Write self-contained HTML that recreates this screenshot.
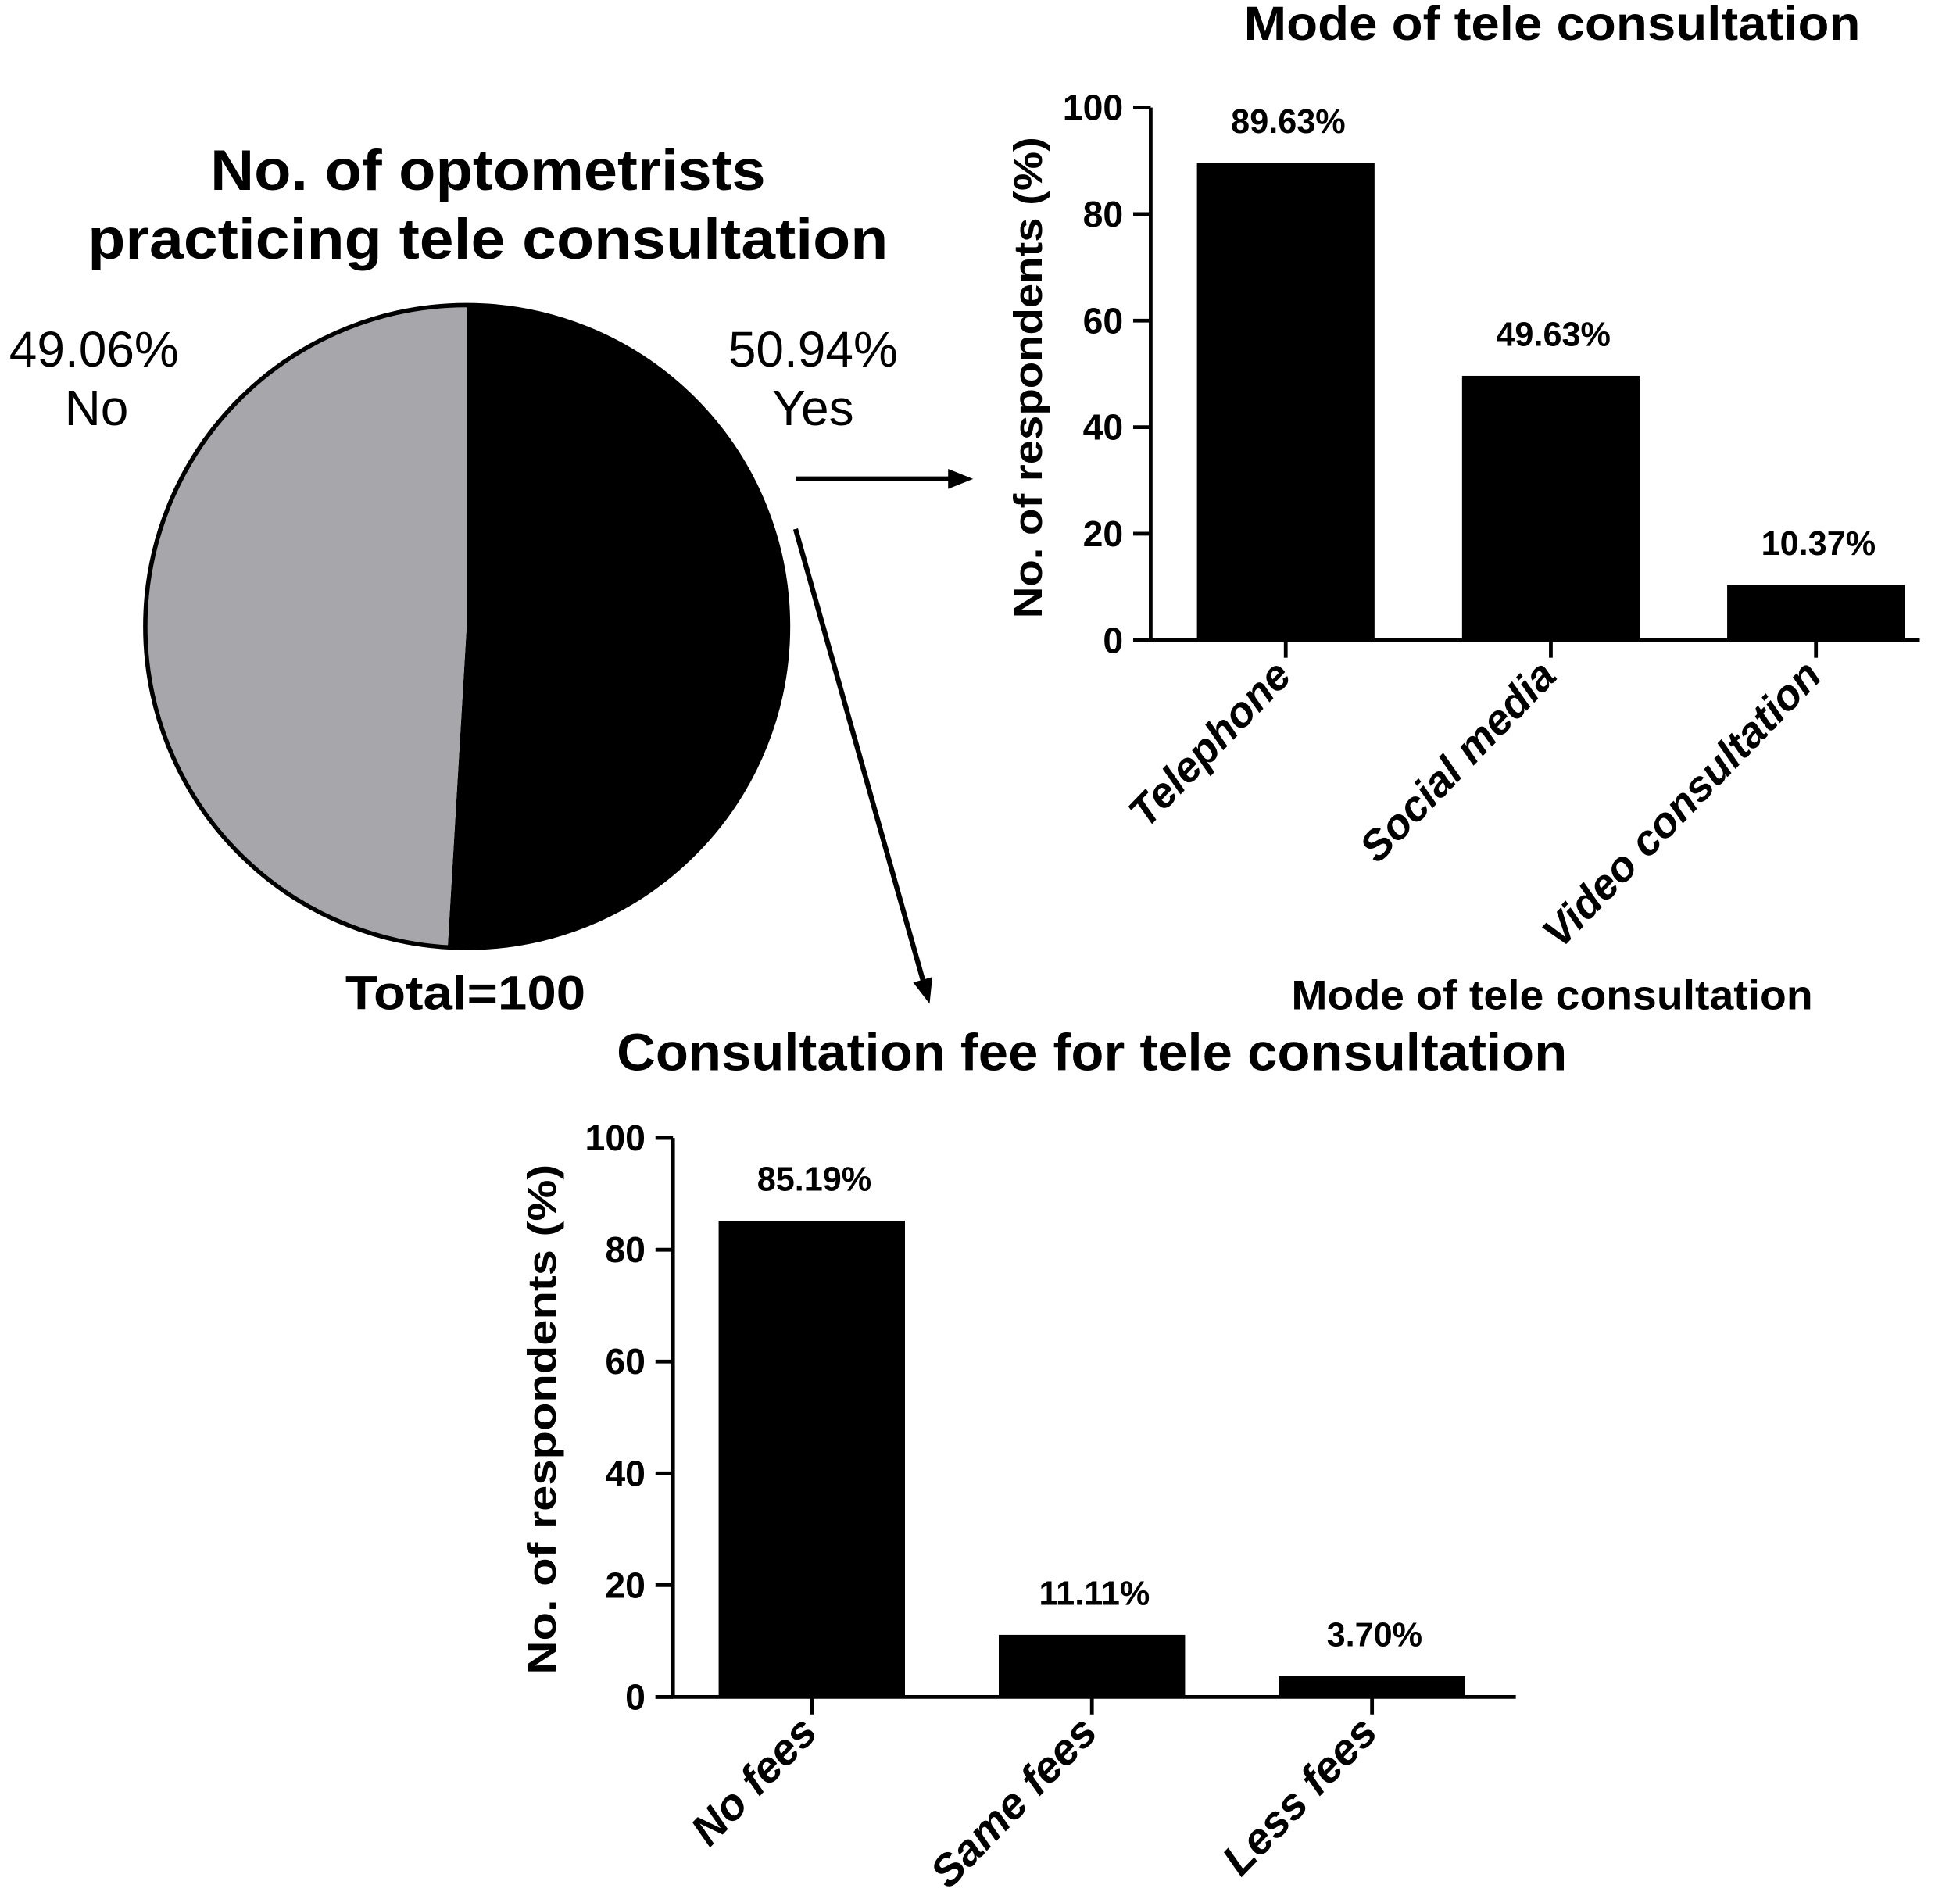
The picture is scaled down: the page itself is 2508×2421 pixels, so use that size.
<!DOCTYPE html>
<html><head><meta charset="utf-8"><style>
html,body{margin:0;padding:0;background:#fff;}
svg{display:block;font-family:"Liberation Sans",Arial,sans-serif;}
</style></head><body>
<svg id="fig" width="2508" height="2421" viewBox="0 0 1567 1513" xmlns="http://www.w3.org/2000/svg">
<defs><marker id="ah" markerWidth="24" markerHeight="18" refX="12" refY="8" orient="auto" markerUnits="userSpaceOnUse"><path d="M0,0 L20,8 L0,16 z"/></marker></defs>
<text x="390" y="152" font-size="46" font-weight="bold" text-anchor="middle" textLength="444" lengthAdjust="spacingAndGlyphs">No. of optometrists</text>
<text x="390" y="207" font-size="46" font-weight="bold" text-anchor="middle" textLength="640" lengthAdjust="spacingAndGlyphs">practicing tele consultation</text>
<g id="pie"></g>
<text x="75" y="293" font-size="40" text-anchor="middle">49.06%</text>
<text x="77" y="340" font-size="40" text-anchor="middle">No</text>
<text x="650" y="293" font-size="40" text-anchor="middle">50.94%</text>
<text x="650" y="340" font-size="40" text-anchor="middle">Yes</text>
<text x="372" y="807" font-size="38" font-weight="bold" text-anchor="middle" textLength="192" lengthAdjust="spacingAndGlyphs">Total=100</text>
<line x1="636" y1="383" x2="770" y2="383" stroke="#000" stroke-width="4" marker-end="url(#ah)"/>
<line x1="636" y1="423" x2="741" y2="795" stroke="#000" stroke-width="4" marker-end="url(#ah)"/>
<text x="1241" y="32" font-size="38" font-weight="bold" text-anchor="middle" textLength="493" lengthAdjust="spacingAndGlyphs">Mode of tele consultation</text>
<text x="1241" y="807" font-size="33" font-weight="bold" text-anchor="middle" textLength="417" lengthAdjust="spacingAndGlyphs">Mode of tele consultation</text>
<text x="873" y="856" font-size="42" font-weight="bold" text-anchor="middle" textLength="760" lengthAdjust="spacingAndGlyphs">Consultation fee for tele consultation</text>
<g id="c1"></g>
<g id="c2"></g>
</svg>
<script>
const pieLabels=["Yes","No"];
const pieValues=[50.94,49.06];
const modeCats=["Telephone","Social media","Video consultation"];
const modeVals=[89.63,49.63,10.37];
const modeLabels=["89.63%","49.63%","10.37%"];
const feeCats=["No fees","Same fees","Less fees"];
const feeVals=[85.19,11.11,3.70];
const feeLabels=["85.19%","11.11%","3.70%"];
const yTicks=[0,20,40,60,80,100];
const NS="http://www.w3.org/2000/svg";
function mk(tag,attrs,parent,txt){const e=document.createElementNS(NS,tag);for(const k in attrs)e.setAttribute(k,attrs[k]);if(txt!==undefined)e.textContent=txt;parent.appendChild(e);return e;}
(function(){
  const g=document.getElementById('pie');const cx=373,cy=501,r=257;
  const total=pieValues.reduce((a,b)=>a+b,0);let a0=-Math.PI/2;
  const fills=["#000","#a7a7ab"];
  pieValues.forEach((v,i)=>{const a1=a0+v/total*2*Math.PI;
    const x0=cx+r*Math.cos(a0),y0=cy+r*Math.sin(a0),x1=cx+r*Math.cos(a1),y1=cy+r*Math.sin(a1);
    const large=(a1-a0)>Math.PI?1:0;
    const p=mk('path',{d:`M${cx},${cy} L${x0},${y0} A${r},${r} 0 ${large} 1 ${x1},${y1} Z`,fill:fills[i]},g);
    
    
    a0=a1;});
  const c=mk('circle',{cx:cx,cy:cy,r:r,fill:'none',stroke:'#000','stroke-width':3.5},g);
  
  
})();
function bar(gid,cats,vals,labs,o){
  const g=document.getElementById(gid);
  const y=v=>o.y0-(v/100)*(o.y0-o.y100);
  const xc=i=>o.c0+o.step*i;
  const ya=mk('line',{x1:o.x0,y1:o.y100,x2:o.x0,y2:o.y0,stroke:'#000','stroke-width':3},g);
  
  
  const xa=mk('line',{x1:o.x0-14,y1:o.y0,x2:o.xEnd,y2:o.y0,stroke:'#000','stroke-width':3},g);
  
  
  yTicks.forEach(t=>{
    const tl=mk('line',{x1:o.x0-14,y1:y(t),x2:o.x0,y2:y(t),stroke:'#000','stroke-width':3},g);
    
    
    const tt=mk('text',{x:o.x0-22,y:y(t)+10,'font-size':29,'font-weight':'bold','text-anchor':'end'},g,String(t));
    
    
  });
  cats.forEach((c,i)=>{
    const cx=xc(i);
    const b=mk('rect',{x:cx-o.bw/2,y:y(vals[i]),width:o.bw,height:o.y0-y(vals[i]),fill:'#000'},g);
    
    
    const vl=mk('text',{x:cx+2,y:y(vals[i])-24,'font-size':27,'font-weight':'bold','text-anchor':'middle'},g,labs[i]);
    
    
    const tk=mk('line',{x1:cx,y1:o.y0,x2:cx,y2:o.y0+14,stroke:'#000','stroke-width':3},g);
    
    
    const cl=mk('text',{x:0,y:0,'font-size':o.cfs,'font-weight':'bold','font-style':'italic','text-anchor':'end',transform:`translate(${cx+6},${o.y0+30}) rotate(-46)`},g,c);
    
    
  });
  const yt=mk('text',{x:0,y:0,'font-size':32,'font-weight':'bold','text-anchor':'middle',textLength:o.ytl,lengthAdjust:'spacingAndGlyphs',transform:`translate(${o.ytx},${o.ytc}) rotate(-90)`},g,'No. of respondents (%)');
  
  
}
bar('c1',modeCats,modeVals,modeLabels,{x0:920,xEnd:1535,y0:512,y100:86,c0:1028,step:212,bw:142,cfs:34,ytx:833,ytc:302,ytl:385});
bar('c2',feeCats,feeVals,feeLabels,{x0:538,xEnd:1212,y0:1357,y100:910,c0:649,step:224,bw:149,cfs:35,ytx:444,ytc:1135,ytl:408});
</script>
</body></html>
